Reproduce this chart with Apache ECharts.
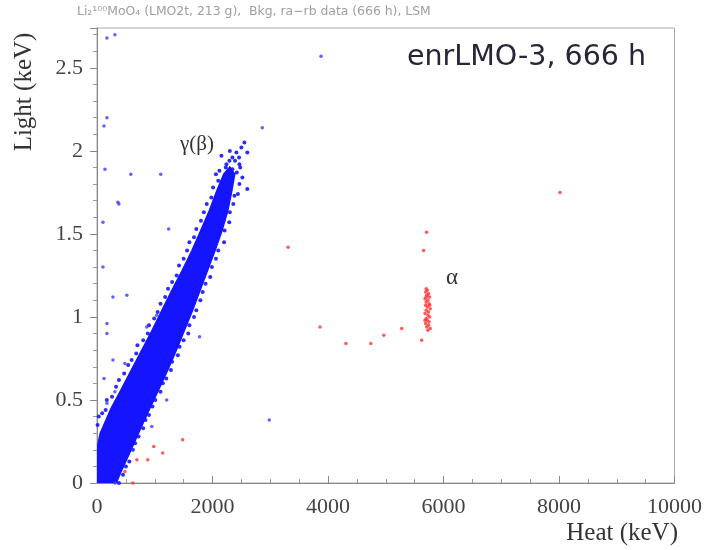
<!DOCTYPE html>
<html>
<head>
<meta charset="utf-8">
<script src="https://cdn.jsdelivr.net/npm/echarts@6/dist/echarts.min.js"></script>
<style>
  html, body { margin: 0; padding: 0; background: #fff; }
  #chart { width: 705px; height: 550px; }
</style>
</head>
<body>
<div id="chart"></div>
<script>
// Axis tick labels
const heatTicks = ['0', '2000', '4000', '6000', '8000', '10000'];
const lightTicks = ['0', '0.5', '1', '1.5', '2', '2.5'];

// Outline of the dense gamma(beta) band: [heat keV, light keV]
// left (upper) edge, bottom to top
const bandLeft = [
  [0, 0], [0, 0.2], [60, 0.3], [250, 0.45], [420, 0.56], [600, 0.68],
  [780, 0.8], [960, 0.92], [1130, 1.04], [1300, 1.16], [1480, 1.28],
  [1650, 1.4], [1800, 1.52], [1950, 1.64], [2080, 1.76], [2200, 1.86]
];
// right (lower) edge, top to bottom
const bandRight = [
  [2300, 1.9], [2380, 1.86], [2330, 1.76], [2260, 1.64], [2160, 1.52],
  [2040, 1.4], [1910, 1.28], [1780, 1.16], [1650, 1.04], [1510, 0.92],
  [1370, 0.8], [1220, 0.68], [1060, 0.56], [910, 0.45], [740, 0.32],
  [560, 0.18], [400, 0.06], [330, 0]
];

// Ragged events just outside the band edges
const bandLeftEvents = [
  [10, 0.35], [30, 0.4], [90, 0.42], [150, 0.44], [170, 0.5], [260, 0.52],
  [330, 0.58], [380, 0.62], [470, 0.66], [540, 0.71], [600, 0.74],
  [680, 0.78], [700, 0.83], [800, 0.86], [880, 0.9], [900, 0.95],
  [990, 0.99], [1050, 1.03], [1100, 1.08], [1180, 1.12], [1230, 1.17],
  [1300, 1.21], [1380, 1.25], [1420, 1.31], [1500, 1.35], [1560, 1.4],
  [1600, 1.45], [1680, 1.48], [1720, 1.53], [1800, 1.58], [1850, 1.63],
  [1900, 1.68], [1980, 1.72], [2010, 1.78], [2100, 1.82]
];
const bandRightEvents = [
  [380, 0.0], [450, 0.05], [500, 0.1], [560, 0.13], [620, 0.2], [660, 0.24],
  [720, 0.28], [800, 0.33], [840, 0.38], [900, 0.41], [960, 0.46],
  [1010, 0.5], [1100, 0.55], [1140, 0.6], [1200, 0.63], [1280, 0.68],
  [1300, 0.73], [1400, 0.77], [1430, 0.82], [1500, 0.86], [1580, 0.9],
  [1600, 0.95], [1680, 1.0], [1720, 1.04], [1790, 1.1], [1830, 1.15],
  [1880, 1.2], [1960, 1.24], [1990, 1.3], [2060, 1.35], [2100, 1.4],
  [2200, 1.45], [2210, 1.52], [2290, 1.57], [2300, 1.63], [2360, 1.68],
  [2380, 1.73]
];
// Sparse upper tail of the band
const bandTailEvents = [
  [2060, 1.86], [2120, 1.88], [2230, 1.9], [2420, 1.87], [2345, 1.89],
  [2241, 1.92], [2466, 1.92], [2293, 1.94], [2390, 1.94], [2345, 1.96],
  [2460, 1.96], [2414, 1.99], [2603, 1.99], [2500, 2.02], [2552, 2.05],
  [2517, 1.84], [2603, 1.77], [2466, 1.80], [2440, 1.74], [2155, 1.97],
  [2300, 2.0], [2480, 1.9]
];

// Isolated gamma(beta)-like events away from the band
const bluePoints = [
  [172, 2.68], [310, 2.70], [3880, 2.57], [172, 2.20], [121, 2.15],
  [138, 1.89], [586, 1.86], [1103, 1.86], [362, 1.69], [2862, 2.14],
  [379, 1.68], [103, 1.57], [1241, 1.53], [103, 1.30], [517, 1.13],
  [276, 1.12], [172, 0.96], [172, 0.90], [276, 0.74], [483, 0.72],
  [121, 0.63], [310, 0.55], [172, 0.48], [1776, 0.88], [1034, 1.01],
  [862, 0.94], [1207, 0.50], [948, 0.34], [621, 0.20], [310, 0.0],
  [2983, 0.38]
];

// Alpha events
const redPoints = [
  [1483, 0.26], [983, 0.22], [1138, 0.18], [690, 0.14], [879, 0.14],
  [483, 0.07], [621, 0.0], [8017, 1.75], [5707, 1.51], [5655, 1.40],
  [3310, 1.42], [3862, 0.94], [4310, 0.84], [4741, 0.84], [4966, 0.89],
  [5276, 0.93], [5621, 0.86]
];
const alphaCluster = [
  [5700, 1.17], [5720, 1.16], [5690, 1.15], [5740, 1.14], [5710, 1.13],
  [5760, 1.12], [5680, 1.11], [5730, 1.10], [5700, 1.09], [5750, 1.08],
  [5690, 1.07], [5720, 1.06], [5770, 1.05], [5700, 1.04], [5740, 1.03],
  [5680, 1.02], [5730, 1.01], [5760, 1.00], [5700, 0.99], [5720, 0.98],
  [5750, 0.97], [5690, 0.96], [5740, 0.95], [5710, 0.94], [5770, 0.93],
  [5730, 0.92], [5700, 1.12], [5760, 1.07], [5680, 0.98]
];

const BLUE = '#1414ff';
const RED = '#ff3030';
const serif = '"Liberation Serif", "DejaVu Serif", serif';

const chart = echarts.init(document.getElementById('chart'), null, { renderer: 'canvas' });

const bandPolygon = bandLeft.concat(bandRight);

chart.setOption({
  animation: false,
  backgroundColor: '#ffffff',
  grid: {
    left: 97, right: 28, top: 28, bottom: 67,
    show: true, borderColor: '#aaaaaa', borderWidth: 1
  },
  xAxis: {
    type: 'value', min: 0, max: 10000, interval: 2000,
    axisLine: { show: true, lineStyle: { color: '#888', width: 1 } },
    axisTick: { show: true, inside: true, length: 7, lineStyle: { color: '#888' } },
    minorTick: { show: true, splitNumber: 4, length: 4, lineStyle: { color: '#999' } },
    splitLine: { show: false },
    axisLabel: {
      margin: 13, color: '#444', fontFamily: serif, fontSize: 22,
      formatter: v => heatTicks[Math.round(v / 2000)] ?? ''
    }
  },
  yAxis: {
    type: 'value', min: 0, max: 2.74, interval: 0.5,
    axisLine: { show: true, lineStyle: { color: '#888', width: 1 } },
    axisTick: { show: true, inside: false, length: 7, lineStyle: { color: '#888' } },
    minorTick: { show: true, splitNumber: 5, length: 4, lineStyle: { color: '#999' } },
    splitLine: { show: false },
    axisLabel: {
      margin: 14, color: '#444', fontFamily: serif, fontSize: 22,
      showMaxLabel: false,
      formatter: v => {
        const i = Math.round(v / 0.5);
        return Math.abs(v - i * 0.5) < 1e-6 ? (lightTicks[i] ?? '') : '';
      }
    }
  },
  series: [
    {
      name: 'gamma band',
      type: 'custom',
      data: [0],
      clip: true,
      renderItem: (params, api) => ({
        type: 'polygon',
        shape: { points: bandPolygon.map(p => api.coord(p)) },
        style: { fill: BLUE, stroke: BLUE, lineWidth: 2 }
      }),
      z: 2
    },
    {
      name: 'band edges', type: 'scatter',
      data: bandLeftEvents.concat(bandRightEvents, bandTailEvents),
      symbol: 'circle', symbolSize: 4, itemStyle: { color: BLUE, opacity: 0.9 }, z: 3
    },
    {
      name: 'gamma', type: 'scatter', data: bluePoints,
      symbol: 'circle', symbolSize: 3.5, itemStyle: { color: '#3a3aff', opacity: 0.8 }, z: 3
    },
    {
      name: 'alpha', type: 'scatter', data: redPoints.concat(alphaCluster),
      symbol: 'circle', symbolSize: 3.5, itemStyle: { color: RED, opacity: 0.8 }, z: 3
    }
  ],
  graphic: [
    {
      type: 'text', left: 77, top: 6,
      style: {
        text: 'Li₂¹⁰⁰MoO₄ (LMO2t, 213 g),  Bkg, ra−rb data (666 h), LSM',
        font: '12.4px "DejaVu Sans", sans-serif', fill: '#a0a0a0'
      }
    },
    {
      type: 'text', left: 407, top: 43,
      style: {
        text: 'enrLMO-3, 666 h',
        font: '28.5px "DejaVu Sans", sans-serif', fill: '#262636'
      }
    },
    {
      type: 'text', left: 180, top: 134,
      style: { text: 'γ(β)', font: '21px ' + serif, fill: '#333' }
    },
    {
      type: 'text', left: 446, top: 266,
      style: { text: 'α', font: '23px ' + serif, fill: '#333' }
    },
    {
      type: 'text', x: 24, y: 92, rotation: Math.PI / 2,
      style: {
        text: 'Light (keV)', font: '25px ' + serif, fill: '#333',
        align: 'center', verticalAlign: 'middle'
      }
    },
    {
      type: 'text', right: 27, top: 521,
      style: { text: 'Heat (keV)', font: '25px ' + serif, fill: '#333' }
    }
  ]
});
</script>
</body>
</html>
